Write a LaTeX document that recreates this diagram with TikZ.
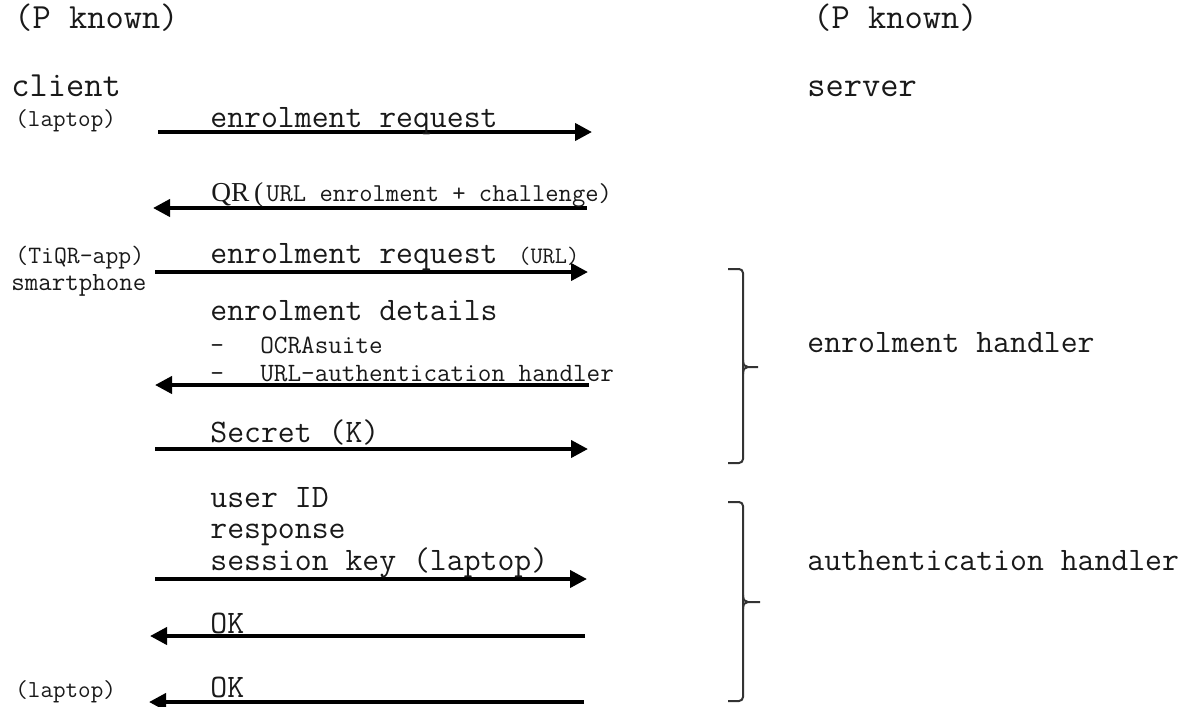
\documentclass[tikz,border=0pt]{standalone}
\usepackage{fontspec}
\usetikzlibrary{arrows.meta}
\newfontfamily\mono{Latin Modern Mono}
\newfontfamily\qrfont{Liberation Serif}
\newcommand\tsize[1]{\mono\fontsize{#1}{#1}\selectfont}
\begin{document}
\begin{tikzpicture}[x=0.5pt,y=-0.5pt,
  txt/.style={anchor=base west, inner sep=0pt, text=black!90},
  big/.style={txt, font=\tsize{17.7}},
  med/.style={txt, font=\tsize{16.4}},
  det/.style={txt, font=\tsize{13.2}},
  sml/.style={txt, font=\tsize{12.2}},
  msg/.style={line width=2pt, -{Triangle[length=8.5pt,width=8.5pt]}},
  brace/.style={line width=1pt, black!80, rounded corners=2pt}]
\useasboundingbox (0,0) rectangle (1195,707);

% parties
\node[big] (pl)   at (14,28)  {(P known)};
\node[big] (pr)   at (813,28) {(P known)};
\node[big] (cli)  at (11,96)  {client};
\node[big] (srv)  at (807,96) {server};
\node[sml] (lap1) at (15,126) {(laptop)};
\node[sml, font=\tsize{12.5}] (tiqr) at (15,263) {(TiQR-app)};
\node[sml, font=\tsize{13.1}] (phone) at (11,290) {smartphone};
\node[sml] (lap2) at (15,697) {(laptop)};

% message endpoints
\coordinate (m1a) at (158,132); \coordinate (m1b) at (592,132);
\coordinate (m2a) at (587,208); \coordinate (m2b) at (153,208);
\coordinate (m3a) at (155,272); \coordinate (m3b) at (588,272);
\coordinate (m4a) at (589,385); \coordinate (m4b) at (155,385);
\coordinate (m5a) at (155,449); \coordinate (m5b) at (588,449);
\coordinate (m6a) at (155,579); \coordinate (m6b) at (587,579);
\coordinate (m7a) at (585,636); \coordinate (m7b) at (150,636);
\coordinate (m8a) at (584,702); \coordinate (m8b) at (149,702);

\draw[msg] (m1a) -- (m1b);
\draw[msg] (m2a) -- (m2b);
\draw[msg] (m3a) -- (m3b);
\draw[msg] (m4a) -- (m4b);
\draw[msg] (m5a) -- (m5b);
\draw[msg] (m6a) -- (m6b);
\draw[msg] (m7a) -- (m7b);
\draw[msg] (m8a) -- (m8b);

% message labels
\node[med] (l1) at (210,127) {enrolment request};
\node[txt, font=\qrfont\fontsize{13.7}{16}\selectfont] (l2a) at (211,201) {QR\,(};
\node[det, font=\tsize{12.9}] (l2b) at (266,201) {URL enrolment + challenge)};
\node[med] (l3a) at (210,263) {enrolment request};
\node[sml, font=\tsize{11.8}] (l3b) at (518,263) {(URL)};
\node[med] (l4)  at (210,320) {enrolment details};
\node[det] (l4a) at (210,353) {-};
\node[det] (l4b) at (260,353) {OCRAsuite};
\node[det] (l4c) at (210,381) {-};
\node[det] (l4d) at (260,381) {URL-authentication handler};
\node[med] (l5)  at (210,442) {Secret (K)};
\node[med] (l6a) at (210,507) {user ID};
\node[med] (l6b) at (210,538) {response};
\node[med] (l6c) at (210,570) {session key (laptop)};
\node[med] (l7)  at (210,633) {OK};
\node[med] (l8)  at (210,697) {OK};

% server-side handlers
\coordinate (b1t) at (728,269); \coordinate (b1m) at (758,367); \coordinate (b1b) at (728,463);
\draw[brace] (b1t) -- (743,269) -- (743,463) -- (b1b);
\draw[line width=1pt, black!80]
  (743,360) .. controls (743,365) and (745,367) .. (748,367) -- (b1m)
  (748,367) .. controls (745,367) and (743,369) .. (743,374);
\coordinate (b2t) at (728,502); \coordinate (b2m) at (760,602); \coordinate (b2b) at (728,701);
\draw[brace] (b2t) -- (743,502) -- (743,701) -- (b2b);
\draw[line width=1pt, black!80]
  (743,595) .. controls (743,600) and (745,602) .. (748,602) -- (b2m)
  (748,602) .. controls (745,602) and (743,604) .. (743,609);

\node[med] (h1) at (807,352) {enrolment handler};
\node[med] (h2) at (807,570) {authentication handler};
\end{tikzpicture}
\end{document}
